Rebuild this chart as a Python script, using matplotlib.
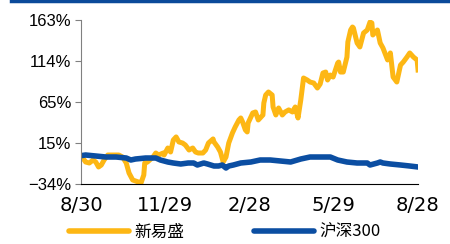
import matplotlib.pyplot as plt
import matplotlib.lines as mlines

plt.rcParams['font.family'] = ['Noto Sans CJK SC', 'DejaVu Sans']

# days since 8/30 and cumulative return (%)
xys_days = [0, 2, 5, 9, 13, 16, 19, 22, 25, 29, 35, 41, 45, 49, 52, 56, 62, 65, 68, 69,
            72, 78, 81, 84, 89, 90, 94, 97, 100, 103, 106, 110, 113, 117, 121, 124, 127,
            132, 135, 138, 143, 144, 148, 151, 154, 157, 160, 164, 167, 171, 173, 175,
            178, 180, 181, 186, 189, 192, 197, 198, 200, 203, 207, 208, 211, 214, 218,
            221, 225, 229, 232, 235, 238, 241, 245, 248, 252, 256, 259, 262, 265, 267,
            270, 273, 278, 279, 281, 284, 288, 289, 292, 294, 295, 299, 302, 306, 310,
            313, 315, 316, 321, 324, 327, 332, 335, 338, 342, 346, 349, 353, 356, 360,
            364, 365]
xys_ret = [0, -2.8, -7.6, -8.8, -5.2, -7.6, -13.6, -11.2, -5.2, 0.8, 0.8, 0.8, -1.6,
           -8.8, -20.8, -29.2, -31.6, -32.8, -23.2, -8.8, -7.6, -1.6, 3.2, 0.8, 3.2, 0.8,
           9.2, 4.4, 18.9, 22.5, 16.5, 15.2, 12.8, 6.8, 9.2, 4.4, 3.2, 3.2, 6.8, 15.2,
           20.1, 16.5, 10.4, 4.4, -7.6, -1.6, 15.2, 27.3, 34.5, 42.9, 45.3, 40.5, 30.9,
           28.5, 39.3, 51.3, 52.5, 42.9, 48.9, 63.3, 72.9, 76.5, 72.9, 58.5, 48.9, 57.3,
           48.9, 52.5, 55.0, 52.5, 58.5, 45.3, 66.9, 93.3, 90.9, 88.5, 87.3, 81.3, 86.1,
           99.3, 100.5, 90.9, 96.9, 94.5, 111.3, 112.5, 100.5, 100.5, 118.5, 136.6, 151.0,
           154.6, 153.4, 135.4, 130.6, 147.4, 151.0, 160.6, 159.4, 145.0, 151.0, 135.4,
           129.4, 115.0, 123.4, 94.5, 88.5, 108.9, 112.5, 118.5, 123.4, 118.5, 114.9, 102.9]

hs_days = [0, 5, 16, 27, 38, 49, 54, 59, 70, 81, 86, 94, 100, 108, 116, 122, 126, 133,
           137, 144, 149, 153, 157, 160, 165, 173, 184, 194, 205, 216, 227, 238, 248,
           259, 270, 278, 288, 299, 310, 313, 321, 324, 327, 335, 346, 356, 365]
hs_ret = [0, 0.8, -0.4, -1.6, -1.6, -2.8, -5.2, -4.0, -2.8, -2.8, -5.2, -7.6, -8.8,
          -10.0, -8.8, -8.8, -11.2, -8.8, -10.0, -12.4, -12.4, -11.2, -14.8, -12.4,
          -11.2, -8.8, -7.6, -5.2, -5.2, -6.4, -7.6, -4.0, -1.6, -1.6, -1.6, -5.2, -7.6,
          -8.8, -8.8, -11.2, -8.8, -7.6, -8.8, -10.0, -11.2, -12.4, -13.6]

tick_days = [0, 91, 182, 273, 364]
tick_labels = ['8/30', '11/29', '2/28', '5/29', '8/28']
ytick_vals = [-34, 15.25, 64.5, 113.75, 163]
ytick_labels = ['-34%', '15%', '65%', '114%', '163%']

yellow = '#FDB714'
blue = '#0B4EA2'

fig = plt.figure(figsize=(4.5, 2.44), dpi=100)
ax = fig.add_axes([0.18, 0.246, 0.749, 0.672])

ax.plot(xys_days, xys_ret, color=yellow, lw=3.6, solid_joinstyle='round')
ax.plot(hs_days, hs_ret, color=blue, lw=4.0, solid_joinstyle='round')

ax.set_xlim(0, 365)
ax.set_ylim(-34, 163)
ax.set_xticks(tick_days)
ax.set_xticklabels(tick_labels, fontsize=14, family='DejaVu Sans')
ax.set_yticks(ytick_vals)
ax.set_yticklabels([s.replace('-', '\u2212') for s in ytick_labels],
                   fontsize=12, family='Liberation Sans')
ax.tick_params(axis='x', length=0, pad=9)
ax.tick_params(axis='y', length=4, color='#808080', pad=3)
ax.spines['top'].set_visible(False)
ax.spines['right'].set_visible(False)
ax.spines['left'].set_color('#808080')
ax.spines['bottom'].set_color('#000000')

# top border line
fig.add_artist(mlines.Line2D([11 / 450, 1], [0.997, 0.997], color='#0B4A9A', lw=2.5))

h1 = mlines.Line2D([], [], color=yellow, lw=4, solid_capstyle='round')
h2 = mlines.Line2D([], [], color=blue, lw=4, solid_capstyle='round')
fig.legend([h1, h2], ['新易盛', '沪深300'], loc='center', ncol=2,
           bbox_to_anchor=(0.5, 0.048), frameon=False, fontsize=12,
           handlelength=3.6, handletextpad=0.3, columnspacing=4.2,
           borderpad=0, borderaxespad=0)

fig.savefig('out.png', dpi=100)
